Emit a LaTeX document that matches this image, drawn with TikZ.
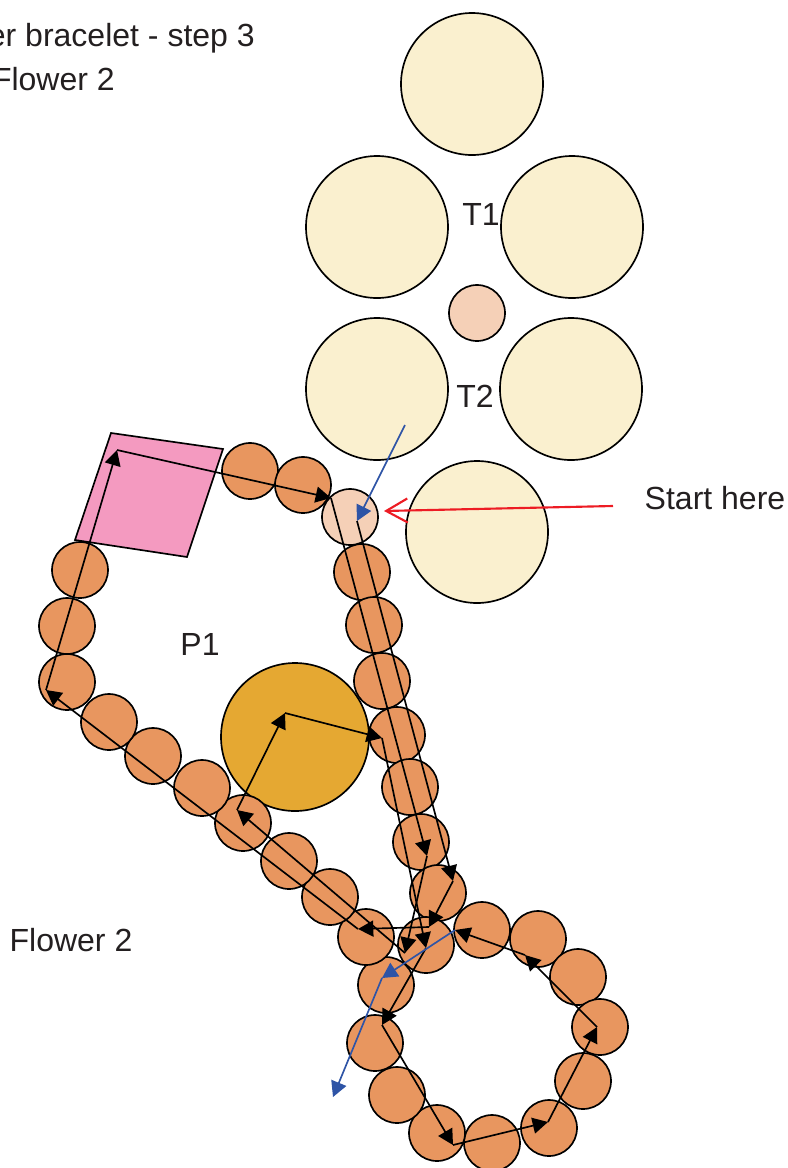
\documentclass[tikz,border=0pt]{standalone}
\usepackage{fontspec}
\setmainfont{Liberation Sans}
\usetikzlibrary{arrows.meta}

\definecolor{creambead}{HTML}{FAF0CF}
\definecolor{peachbead}{HTML}{F5D0B7}
\definecolor{orangebead}{HTML}{E8965F}
\definecolor{goldbead}{HTML}{E5A832}
\definecolor{pinkbead}{HTML}{F49AC0}
\definecolor{threadblue}{HTML}{2E54A6}
\definecolor{startred}{HTML}{ED1C24}
\definecolor{labeltext}{HTML}{231F20}

\tikzset{
    beadbase/.style={circle,draw=black,line width=1.25pt,inner sep=0pt,outer sep=0pt},
    bead/.style={beadbase,fill=orangebead,minimum size=42pt},
    smallbead/.style={beadbase,fill=peachbead,minimum size=42pt},
    bigbead/.style={beadbase,fill=creambead,minimum size=106.5pt},
    goldcab/.style={beadbase,fill=goldbead,minimum size=111pt},
    thread/.style={draw=black,line width=1.25pt,-{Triangle[length=11.5pt,width=12pt]}},
    bluethread/.style={draw=threadblue,line width=1.25pt,-{Triangle[length=11.5pt,width=12pt]}},
    startarrow/.style={draw=startred,line width=1.6pt,-{Straight Barb[length=16pt,width=18pt]}},
    label/.style={text=labeltext,font=\fontsize{24}{28}\selectfont,inner sep=0pt}
}

\begin{document}
\begin{tikzpicture}[x=0.75pt,y=-0.75pt]
    \useasboundingbox (0,0) rectangle (788,1168);
    \clip (0,0) rectangle (788,1168);

    % Petals of the top flower
    \node[bigbead] (petal1) at (472,84) {};
    \node[bigbead] (petal2) at (377,227) {};
    \node[bigbead] (petal3) at (572,227) {};
    \node[bigbead] (petal4) at (377,389) {};
    \node[bigbead] (petal5) at (571,389) {};
    \node[bigbead] (petal6) at (477,532) {};
    \node[smallbead] (heart) at (477,313) {};

    % Square bead and large bead
    \filldraw[fill=pinkbead,draw=black,line width=1.25pt] (111,433) -- (223,449) -- (187,557) -- (75,540) -- cycle;
    \node[goldcab] (gold) at (295,737) {};

    % Small beads along the loops
    \foreach \px/\py [count=\i] in {250/471,303/485,362/572,374/625,382/681,397/735,410/787,421/842,438/893,
        426/945,482/930,538/939,578/977,600/1027,583/1081,549/1128,492/1143,437/1133,397/1095,375/1043,
        386/985,366/937,330/897,289/861,243/823,202/788,153/756,109/722,67/682,67/626,80/570}
        \node[bead] (bead\i) at (\px,\py) {};
    \node[smallbead] (startbead) at (350,517) {};

    % Turning points of the thread
    \coordinate (p1) at (357,521);
    \coordinate (p2) at (453,881);
    \coordinate (p3) at (429,927);
    \coordinate (p4) at (358,929);
    \coordinate (p5) at (46,690);
    \coordinate (p6) at (117,450);
    \coordinate (p7) at (331,498);
    \coordinate (p8) at (427,856);
    \coordinate (p9) at (405,953);
    \coordinate (p10) at (237,810);
    \coordinate (p11) at (285,713);
    \coordinate (p12) at (382,738);
    \coordinate (p13) at (426,948);
    \coordinate (p14) at (382,1025);
    \coordinate (p15) at (453,1145);
    \coordinate (p16) at (548,1122);
    \coordinate (p17) at (597,1027);
    \coordinate (p18) at (525,955);
    \coordinate (p19) at (455,930);
    \coordinate (p20) at (382,978);
    \coordinate (p21) at (333,1097);
    \coordinate (needle) at (405,425);
    \coordinate (redtail) at (613,506);
    \coordinate (redtip) at (384,511);

    % Black thread
    \foreach \a/\b in {1/2,2/3,3/4,4/5,5/6,6/7,7/8,8/9,9/10,10/11,11/12,12/13,13/14,14/15,15/16,16/17,17/18,18/19}
        \draw[thread] (p\a) -- (p\b);

    % Blue needle in and out
    \draw[bluethread] (needle) -- (p1);
    \draw[bluethread] (p19) -- (p20);
    \draw[bluethread] (p20) -- (p21);

    % Start marker
    \draw[startarrow] (redtail) -- (redtip);

    % Labels
    \node[label,anchor=base east] (title) at (255,46) {er bracelet - step 3};
    \node[label,anchor=base east] (subtitle) at (115,90) {Flower 2};
    \node[label] (t1) at (481,214) {T1};
    \node[label] (t2) at (475,396) {T2};
    \node[label] (p1label) at (200,644) {P1};
    \node[label] (starthere) at (715,498) {Start here};
    \node[label] (flowerlabel) at (71,940) {Flower 2};
\end{tikzpicture}
\end{document}
